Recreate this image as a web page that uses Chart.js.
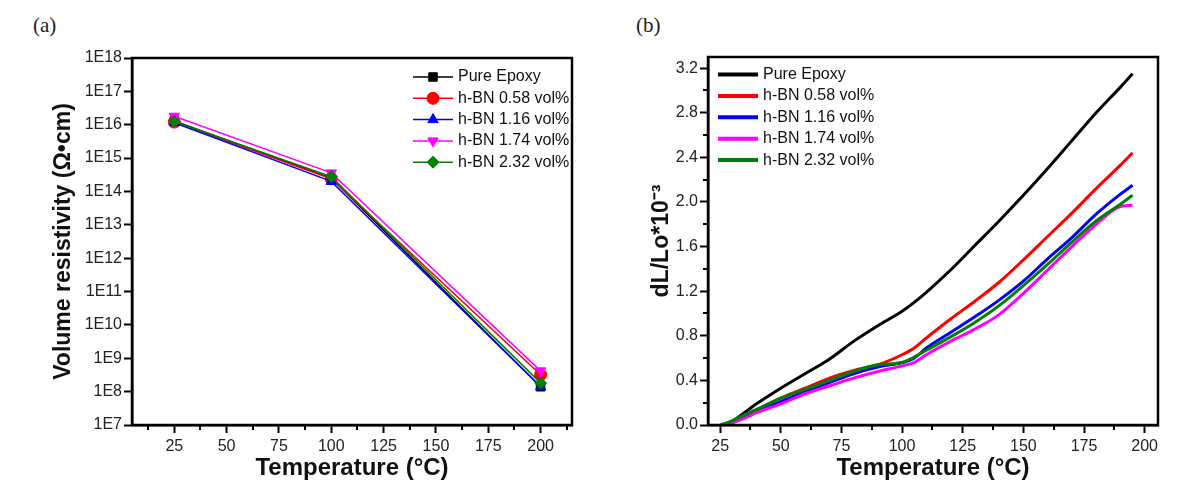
<!DOCTYPE html>
<html>
<head>
<meta charset="utf-8">
<script src="https://cdn.jsdelivr.net/npm/chart.js@4.4.0/dist/chart.umd.min.js"></script>
<style>
  html, body { margin: 0; padding: 0; background: #fff; }
  body { width: 1180px; height: 498px; position: relative; overflow: hidden; }
  .panel { position: absolute; top: 0; width: 590px; height: 498px; }
  .tag { position: absolute; top: 13px; font-family: "Liberation Serif", "Times New Roman", serif; font-size: 21px; color: #222; }
</style>
</head>
<body>
<div class="tag" style="left:33px">(a)</div>
<div class="tag" style="left:636px">(b)</div>
<div class="panel" style="left:0"><canvas id="chartA" width="590" height="498"></canvas></div>
<div class="panel" style="left:590px"><canvas id="chartB" width="590" height="498"></canvas></div>
<script>
const seriesNames = ['Pure Epoxy', 'h-BN 0.58 vol%', 'h-BN 1.16 vol%', 'h-BN 1.74 vol%', 'h-BN 2.32 vol%'];
const colors = ['#000000', '#ff0000', '#0000ff', '#ff00ff', '#008000'];

// (a) volume resistivity, ohm*cm
const resTemps = [25, 100, 200];
const resPure = [1.3e16, 2.5e14, 1.4e8];
const res058 = [1.2e16, 2.4e14, 3.2e8];
const res116 = [1.15e16, 2.0e14, 1.4e8];
const res174 = [1.8e16, 3.6e14, 4.2e8];
const res232 = [1.25e16, 2.8e14, 1.8e8];
const resExps = [7, 8, 9, 10, 11, 12, 13, 14, 15, 16, 17, 18];

// (b) dL/Lo * 10^-3
const dilTemps = [25, 28, 30, 35, 40, 50, 60, 70, 80, 90, 100, 105, 110, 120, 130, 140, 150, 160, 170, 180, 190, 195];
const dilPure = [null, 0, 0.03, 0.11, 0.19, 0.33, 0.46, 0.59, 0.75, 0.89, 1.02, 1.10, 1.19, 1.39, 1.61, 1.83, 2.06, 2.30, 2.55, 2.80, 3.03, 3.15];
const dil058 = [null, 0, 0.03, 0.08, 0.13, 0.24, 0.33, 0.42, 0.49, 0.54, 0.63, 0.69, 0.78, 0.95, 1.11, 1.28, 1.48, 1.69, 1.90, 2.12, 2.33, 2.44];
const dil116 = [null, 0, 0.02, 0.07, 0.12, 0.21, 0.30, 0.38, 0.46, 0.52, 0.56, 0.60, 0.69, 0.83, 0.97, 1.12, 1.29, 1.49, 1.68, 1.89, 2.07, 2.15];
const dil174 = [null, 0, 0.02, 0.06, 0.11, 0.19, 0.28, 0.35, 0.42, 0.48, 0.53, 0.56, 0.63, 0.75, 0.86, 0.99, 1.18, 1.39, 1.60, 1.80, 1.96, 1.97];
const dil232 = [0, 0.02, 0.04, 0.09, 0.14, 0.24, 0.32, 0.40, 0.48, 0.54, 0.56, 0.61, 0.67, 0.79, 0.92, 1.07, 1.25, 1.44, 1.64, 1.83, 1.98, 2.06];

const xMajorTicks = [25, 50, 75, 100, 125, 150, 175, 200];
const xMinorTicksA = [12.5, 37.5, 62.5, 87.5, 112.5, 137.5, 162.5, 187.5, 212.5];
const xMinorTicksB = [37.5, 62.5, 87.5, 112.5, 137.5, 162.5, 187.5];
const dilMajorTicks = [0, 0.4, 0.8, 1.2, 1.6, 2.0, 2.4, 2.8, 3.2];
const dilMinorTicks = [0.2, 0.6, 1.0, 1.4, 1.8, 2.2, 2.6, 3.0];

Chart.defaults.font.family = '"Liberation Sans", Arial, sans-serif';
Chart.defaults.color = '#222';

function points(xs, ys) {
    return xs.map((x, i) => ({ x, y: ys[i] }));
}

// box around plot + short minor ticks
const frameMinor = {
    id: 'frameMinor',
    afterDraw(chart, args, opts) {
        const { ctx, chartArea: a, scales } = chart;
        ctx.save();
        ctx.strokeStyle = '#000';
        ctx.lineWidth = 2;
        (opts.x || []).forEach(v => {
            const px = Math.round(scales.x.getPixelForValue(v));
            ctx.beginPath(); ctx.moveTo(px, a.bottom); ctx.lineTo(px, a.bottom + 5); ctx.stroke();
        });
        (opts.y || []).forEach(v => {
            const py = Math.round(scales.y.getPixelForValue(v));
            ctx.beginPath(); ctx.moveTo(a.left, py); ctx.lineTo(a.left - 5, py); ctx.stroke();
        });
        ctx.lineWidth = 2.5;
        ctx.strokeRect(a.left, a.top, a.right - a.left, a.bottom - a.top);
        ctx.restore();
    }
};

// legend drawn inside plot area
const insideLegend = {
    id: 'insideLegend',
    afterDraw(chart, args, opts) {
        const { ctx, chartArea: a } = chart;
        ctx.save();
        ctx.font = '16px "Liberation Sans", Arial, sans-serif';
        ctx.textBaseline = 'middle';
        ctx.textAlign = 'left';
        const x0 = opts.fromRight ? a.right - opts.fromRight : a.left + opts.fromLeft;
        chart.data.datasets.forEach((ds, i) => {
            const y = a.top + opts.top + i * opts.gap;
            ctx.strokeStyle = ds.borderColor;
            ctx.lineWidth = opts.lineWidth;
            ctx.beginPath(); ctx.moveTo(x0, y); ctx.lineTo(x0 + opts.lineLen, y); ctx.stroke();
            if (opts.markers) {
                ctx.fillStyle = ds.backgroundColor;
                ctx.lineWidth = 1;
                Chart.helpers.drawPoint(ctx, {
                    pointStyle: ds.pointStyle, radius: 6, rotation: ds.pointRotation || 0, borderWidth: 1
                }, x0 + opts.lineLen / 2, y);
            }
            ctx.fillStyle = '#111';
            ctx.fillText(ds.label, x0 + opts.lineLen + 5, y);
        });
        ctx.restore();
    }
};

const markers = ['rect', 'circle', 'triangle', 'triangle', 'rectRot'];
const rotations = [0, 0, 0, 180, 0];
const resSeries = [resPure, res058, res116, res174, res232];

new Chart(document.getElementById('chartA'), {
    type: 'line',
    data: {
        datasets: resSeries.map((vals, i) => ({
            label: seriesNames[i],
            data: points(resTemps, vals),
            borderColor: colors[i],
            backgroundColor: colors[i],
            borderWidth: 1.5,
            pointStyle: markers[i],
            pointRotation: rotations[i],
            pointRadius: 6,
            pointBorderWidth: 1,
            order: 4 - i
        }))
    },
    options: {
        responsive: false,
        animation: false,
        layout: { padding: { left: 0, right: 18, top: 58, bottom: 0 } },
        plugins: {
            legend: { display: false },
            tooltip: { enabled: false },
            frameMinor: { x: xMinorTicksA },
            insideLegend: { fromRight: 159, top: 19, gap: 21.3, lineLen: 40, lineWidth: 1.5, markers: true }
        },
        scales: {
            x: {
                type: 'linear', min: 4.8, max: 215,
                afterBuildTicks: s => { s.ticks = xMajorTicks.map(v => ({ value: v })); },
                afterFit: s => { s.height = 73; },
                ticks: { font: { size: 16 }, color: '#222', padding: 4, autoSkip: false, maxRotation: 0 },
                grid: { drawOnChartArea: false, tickLength: 8, tickWidth: 2, tickColor: '#000' },
                border: { color: '#000', width: 2.5 },
                title: { display: true, text: 'Temperature (°C)', color: '#111', font: { size: 24, weight: 'bold' }, padding: { top: 0, bottom: 15 } }
            },
            y: {
                type: 'logarithmic', min: 1e7, max: 1e18,
                afterBuildTicks: s => { s.ticks = resExps.map(e => ({ value: Math.pow(10, e) })); },
                afterFit: s => { s.width = 132; },
                ticks: { font: { size: 16 }, color: '#222', padding: 2, autoSkip: false,
                    callback: v => '1E' + Math.round(Math.log10(v)) },
                grid: { drawOnChartArea: false, tickLength: 8, tickWidth: 2, tickColor: '#000' },
                border: { color: '#000', width: 2.5 },
                title: { display: true, text: 'Volume resistivity (Ω•cm)', color: '#111', font: { size: 23, weight: 'bold' }, padding: { top: 50, bottom: 0 } }
            }
        }
    },
    plugins: [frameMinor, insideLegend]
});

const dilSeries = [dilPure, dil058, dil116, dil174, dil232];

new Chart(document.getElementById('chartB'), {
    type: 'line',
    data: {
        datasets: dilSeries.map((vals, i) => ({
            label: seriesNames[i],
            data: points(dilTemps, vals),
            borderColor: colors[i],
            backgroundColor: colors[i],
            borderWidth: 3,
            pointRadius: 0,
            tension: 0.3,
            cubicInterpolationMode: 'monotone',
            order: 4 - i
        }))
    },
    options: {
        responsive: false,
        animation: false,
        layout: { padding: { left: 0, right: 22, top: 57, bottom: 0 } },
        plugins: {
            legend: { display: false },
            tooltip: { enabled: false },
            frameMinor: { x: xMinorTicksB, y: dilMinorTicks },
            insideLegend: { fromLeft: 10, top: 17.5, gap: 21.4, lineLen: 40, lineWidth: 4, markers: false }
        },
        scales: {
            x: {
                type: 'linear', min: 20, max: 205.5,
                afterBuildTicks: s => { s.ticks = xMajorTicks.map(v => ({ value: v })); },
                afterFit: s => { s.height = 73; },
                ticks: { font: { size: 16 }, color: '#222', padding: 4, autoSkip: false, maxRotation: 0 },
                grid: { drawOnChartArea: false, tickLength: 8, tickWidth: 2, tickColor: '#000' },
                border: { color: '#000', width: 2.5 },
                title: { display: true, text: 'Temperature (°C)', color: '#111', font: { size: 24, weight: 'bold' }, padding: { top: 0, bottom: 15 } }
            },
            y: {
                type: 'linear', min: 0, max: 3.3,
                afterBuildTicks: s => { s.ticks = dilMajorTicks.map(v => ({ value: v })); },
                afterFit: s => { s.width = 118; },
                ticks: { font: { size: 16 }, color: '#222', padding: 2, autoSkip: false,
                    callback: v => v.toFixed(1) },
                grid: { drawOnChartArea: false, tickLength: 8, tickWidth: 2, tickColor: '#000' },
                border: { color: '#000', width: 2.5 },
                title: { display: true, text: 'dL/Lo*10⁻³', color: '#111', font: { size: 23, weight: 'bold' }, padding: { top: 58, bottom: 0 } }
            }
        }
    },
    plugins: [frameMinor, insideLegend]
});
</script>
</body>
</html>
